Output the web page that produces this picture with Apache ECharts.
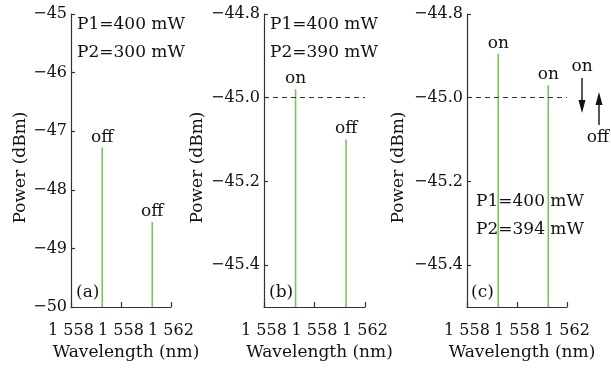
<!DOCTYPE html>
<html>
<head>
<meta charset="utf-8">
<script src="https://cdn.jsdelivr.net/npm/echarts@6/dist/echarts.min.js"></script>
<style>
  html, body { margin: 0; padding: 0; background: #fff; }
  #chart { width: 611px; height: 369px; }
</style>
</head>
<body>
<div id="chart"></div>
<script>
// wavelength axis
const xTicks = [1558, 1560, 1562];
const xTickLabels = ["1 558", "1 558", "1 562"];
const peakWavelengths = [1559.25, 1561.25];

// peak powers (dBm) for the three cases
const powerA = [-47.28, -48.55];
const powerB = [-44.98, -45.1];
const powerC = [-44.895, -44.97];
const stateA = ["off", "off"];
const stateB = ["on", "off"];
const stateC = ["on", "on"];

// y ticks
const yTicksA = [-50, -49, -48, -47, -46, -45];
const yTicksBC = [-45.4, -45.2, -45.0, -44.8];
const refLevel = -45.0;

const panelNames = ["(a)", "(b)", "(c)"];
const pumpText = [
  ["P1=400 mW", "P2=300 mW"],
  ["P1=400 mW", "P2=390 mW"],
  ["P1=400 mW", "P2=394 mW"],
];

const FONT = "DejaVu Serif";
const INK = "#111";
const GREEN = "#78c65c";

const grids = [
  { left: 71, top: 14, width: 100, height: 293 },
  { left: 264, top: 14, width: 101, height: 293 },
  { left: 467, top: 14, width: 100, height: 293 },
];
const yNameGaps = [42, 58, 60];

const fmtY = (v, dec) => (v < 0 ? "\u2212" : "") + Math.abs(v).toFixed(dec);

function xAxis(i) {
  return {
    gridIndex: i,
    type: "value",
    min: xTicks[0],
    max: xTicks[xTicks.length - 1],
    interval: 2,
    name: "Wavelength (nm)",
    nameLocation: "middle",
    nameGap: 34,
    nameTextStyle: { fontFamily: FONT, fontSize: 17, color: INK, padding: [0, 0, 0, 10] },
    axisLine: { lineStyle: { color: "#333", width: 1.2 } },
    axisTick: { inside: true, length: 5, lineStyle: { color: "#333", width: 1.2 } },
    axisLabel: {
      margin: 16,
      fontFamily: FONT,
      fontSize: 16,
      color: INK,
      hideOverlap: false,
      formatter: (v) => xTickLabels[xTicks.indexOf(v)],
    },
    splitLine: { show: false },
  };
}

function yAxis(i, ticks, min, max, dec) {
  return {
    gridIndex: i,
    type: "value",
    min: min,
    max: max,
    name: "Power (dBm)",
    nameLocation: "middle",
    nameGap: yNameGaps[i],
    nameTextStyle: { fontFamily: FONT, fontSize: 17, color: INK, padding: [0, 14, 0, 0] },
    axisLine: { show: true, lineStyle: { color: "#333", width: 1.2 } },
    axisTick: { inside: true, length: 4, customValues: ticks, lineStyle: { color: "#333", width: 1.2 } },
    axisLabel: {
      margin: 4,
      fontFamily: FONT,
      fontSize: 16,
      color: INK,
      customValues: ticks,
      formatter: (v) => fmtY(v, dec),
    },
    splitLine: { show: false },
  };
}

function peakSeries(i, powers, states, yMin, dashed) {
  return powers.map((p, k) => ({
    type: "line",
    xAxisIndex: i,
    yAxisIndex: i,
    symbol: "circle",
    symbolSize: 0,
    lineStyle: { color: GREEN, width: 1.6 },
    itemStyle: { color: GREEN },
    silent: true,
    z: 3,
    data: [
      [peakWavelengths[k], yMin],
      {
        value: [peakWavelengths[k], p],
        label: {
          show: true,
          position: "top",
          distance: 2,
          formatter: states[k],
          fontFamily: FONT,
          fontSize: 17,
          color: INK,
        },
      },
    ],
    markLine:
      dashed && k === 0
        ? {
            silent: true,
            symbol: "none",
            label: { show: false },
            lineStyle: { color: "#333", type: [5, 4], width: 1.2 },
            data: [{ yAxis: refLevel }],
          }
        : undefined,
  }));
}

const chart = echarts.init(document.getElementById("chart"));

const textEl = (x, y, t) => ({
  type: "text",
  x: x,
  y: y,
  style: { text: t, fill: INK, font: "17px '" + FONT + "'", textVerticalAlign: "middle" },
  z: 10,
});

const graphic = [
  textEl(77, 25, pumpText[0][0]),
  textEl(77, 53, pumpText[0][1]),
  textEl(270, 25, pumpText[1][0]),
  textEl(270, 53, pumpText[1][1]),
  textEl(476, 202, pumpText[2][0]),
  textEl(476, 230, pumpText[2][1]),
  textEl(76, 293, panelNames[0]),
  textEl(269, 293, panelNames[1]),
  textEl(471, 293, panelNames[2]),
  // on -> off switching arrows beside panel (c)
  {
    type: "text",
    x: 582,
    y: 67,
    style: { text: "on", fill: INK, font: "17px '" + FONT + "'", textAlign: "center", textVerticalAlign: "middle" },
  },
  { type: "line", shape: { x1: 582, y1: 78, x2: 582, y2: 104 }, style: { stroke: INK, lineWidth: 1.4 } },
  { type: "polygon", shape: { points: [[578.5, 100], [585.5, 100], [582, 113]] }, style: { fill: INK } },
  { type: "line", shape: { x1: 599, y1: 101, x2: 599, y2: 125 }, style: { stroke: INK, lineWidth: 1.4 } },
  { type: "polygon", shape: { points: [[595.5, 105], [602.5, 105], [599, 92]] }, style: { fill: INK } },
  {
    type: "text",
    x: 598,
    y: 138,
    style: { text: "off", fill: INK, font: "17px '" + FONT + "'", textAlign: "center", textVerticalAlign: "middle" },
  },
];

const option = {
  animation: false,
  backgroundColor: "#fff",
  grid: grids,
  xAxis: [xAxis(0), xAxis(1), xAxis(2)],
  yAxis: [
    yAxis(0, yTicksA, -50, -45, 0),
    yAxis(1, yTicksBC, -45.5, -44.8, 1),
    yAxis(2, yTicksBC, -45.5, -44.8, 1),
  ],
  series: [
    ...peakSeries(0, powerA, stateA, -50, false),
    ...peakSeries(1, powerB, stateB, -45.5, true),
    ...peakSeries(2, powerC, stateC, -45.5, true),
  ],
  graphic: graphic,
};

option && chart.setOption(option);
</script>
</body>
</html>
